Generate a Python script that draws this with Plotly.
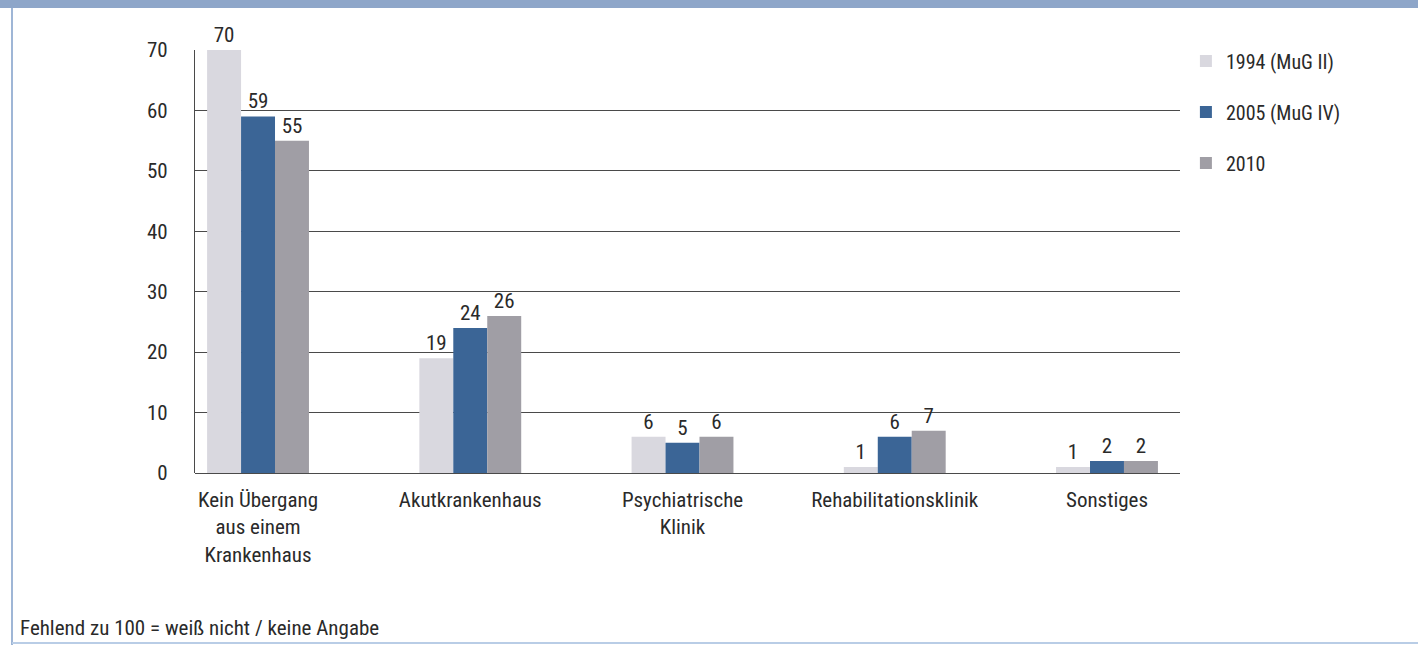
import plotly.graph_objects as go

categories = ["Kein Übergang<br>aus einem<br>Krankenhaus", "Akutkrankenhaus",
              "Psychiatrische<br>Klinik", "Rehabilitationsklinik", "Sonstiges"]
series_names = ["1994 (MuG II)", "2005 (MuG IV)", "2010"]
v1994 = [70, 19, 6, 1, 1]
v2005 = [59, 24, 5, 6, 2]
v2010 = [55, 26, 6, 7, 2]
colors = ["#d9d8df", "#3b6596", "#a09ea5"]
y_ticks = [0, 10, 20, 30, 40, 50, 60, 70]

FONT = "Liberation Sans Narrow, Roboto Condensed, Open Sans, sans-serif"
FS = 21

fig = go.Figure()
for i, (name, vals) in enumerate(zip(series_names, [v1994, v2005, v2010])):
    fig.add_trace(go.Bar(
        x=categories, y=vals, name=name, marker=dict(color=colors[i], line=dict(width=0)),
        text=[str(v) for v in vals], textposition="outside", cliponaxis=False,
        textfont=dict(size=FS, color="#2a2a2a", family=FONT),
        legendgroup=name,
    ))

fig.update_layout(
    width=1418, height=645,
    margin=dict(l=195, r=238, t=50, b=172),
    paper_bgcolor="white", plot_bgcolor="white",
    barmode="group", bargap=0.52, bargroupgap=0,
    font=dict(family=FONT, size=FS, color="#2a2a2a"),
    showlegend=True,
    legend=dict(x=1.006, xanchor="left", y=1.02, yanchor="top",
                font=dict(size=FS - 1, family=FONT, color="#2a2a2a"),
                tracegroupgap=22, bgcolor="rgba(0,0,0,0)"),
    xaxis=dict(range=[-0.297, 4.344], showgrid=False, showline=False,
               ticks="", tickfont=dict(size=FS, family=FONT, color="#2a2a2a"),
               ticklabelstandoff=12),
    yaxis=dict(range=[0, 70], tickvals=y_ticks, showgrid=True, gridcolor="#4a4a4a",
               gridwidth=1.3, zeroline=True, zerolinecolor="#4a4a4a", zerolinewidth=1.3,
               showline=True, linecolor="#4a4a4a", linewidth=1.3,
               ticks="", tickfont=dict(size=FS, family=FONT, color="#2a2a2a"),
               ticklabelstandoff=22),
)

fig.add_annotation(text="Fehlend zu 100 = weiß nicht / keine Angabe", xref="paper", yref="paper",
                   x=(18 - 195) / 985, y=-(628 - 473) / 423, xanchor="left", yanchor="middle",
                   showarrow=False, font=dict(size=FS, family=FONT, color="#2a2a2a"))

# page frame
fig.add_shape(type="rect", xref="paper", yref="paper", x0=-195 / 985, x1=(1418 - 195) / 985,
              y0=(473 - 0) / 423, y1=(473 - 8) / 423, fillcolor="#8ea6c9", line=dict(width=0))
fig.add_shape(type="line", xref="paper", yref="paper", x0=(12 - 195) / 985, x1=(12 - 195) / 985,
              y0=(473 - 8) / 423, y1=(473 - 645) / 423, line=dict(color="#9fb6d6", width=2))
fig.add_shape(type="line", xref="paper", yref="paper", x0=(12 - 195) / 985, x1=(1418 - 195) / 985,
              y0=(473 - 643) / 423, y1=(473 - 643) / 423, line=dict(color="#b9cde6", width=2))

fig.write_html("out.html")
